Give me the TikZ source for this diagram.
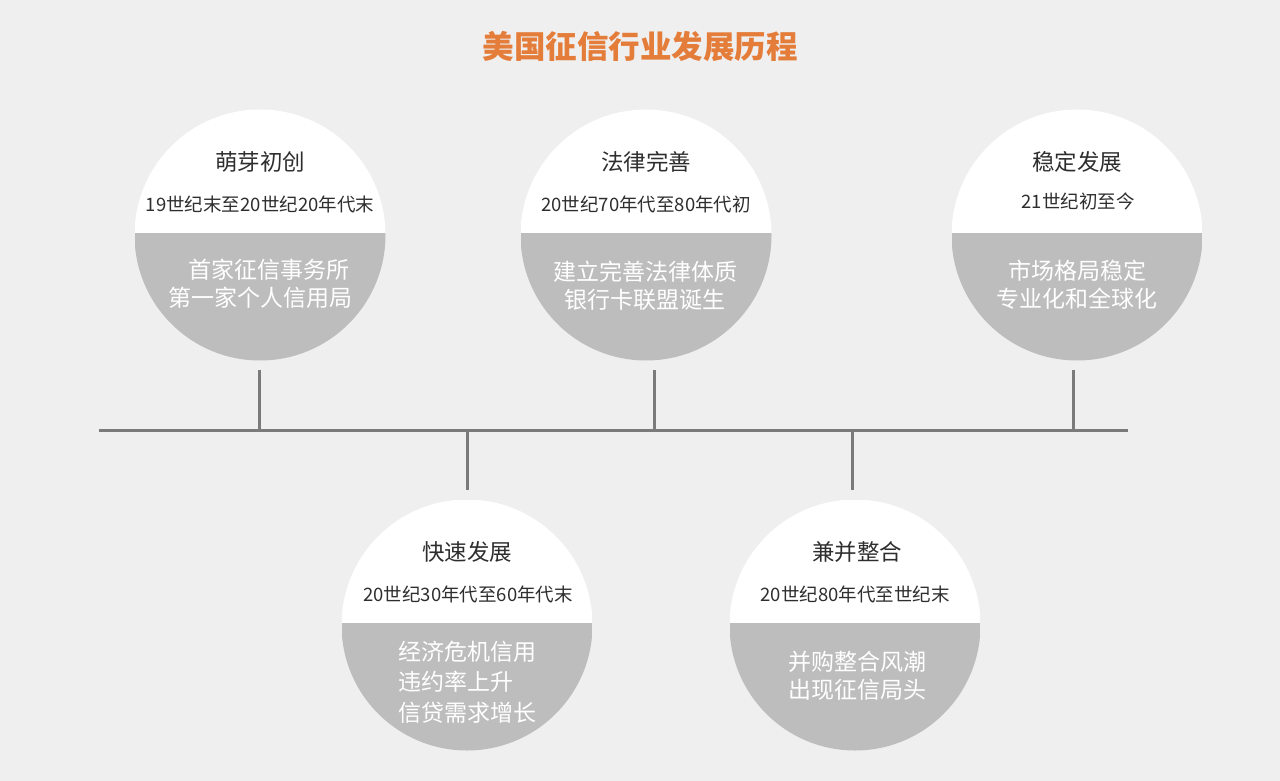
\documentclass[tikz,border=0pt]{standalone}
\usepackage{fontspec}
\setmainfont{Noto Sans CJK SC}
\definecolor{bgc}{HTML}{EFEFEF}
\definecolor{grayc}{HTML}{BDBDBD}
\definecolor{linec}{HTML}{7A7A7A}
\definecolor{orangec}{HTML}{E47D3A}
\definecolor{textc}{HTML}{2E2E2E}
\tikzset{
  stage/.style={circle, minimum size=251pt, inner sep=0pt,
    path picture={
      \fill[white] (path picture bounding box.north west) rectangle ([yshift=2pt]path picture bounding box.east);
      \fill[grayc] ([yshift=2pt]path picture bounding box.west) rectangle (path picture bounding box.south east);}},
  phase/.style={font=\fontsize{22.5}{26}\selectfont, text=textc},
  period/.style={font=\fontsize{18.5}{22}\selectfont, text=textc},
  desc/.style={font=\fontsize{23}{28}\selectfont, text=white, align=center},
  descl/.style={font=\fontsize{23}{30.5}\selectfont, text=white, align=left},
  tl/.style={draw=linec, line width=3pt},
}
\begin{document}
\begin{tikzpicture}[x=1pt,y=-1pt]
\useasboundingbox (0,0) rectangle (1280,781);
\fill[bgc] (0,0) rectangle (1280,781);

\node[font=\fontsize{31.5}{36}\selectfont\bfseries, text=orangec] (title) at (640,47) {美国征信行业发展历程};

% circles
\node[stage] (c1) at (260,235) {};
\node[stage] (c2) at (646,235) {};
\node[stage] (c3) at (1077,235) {};
\node[stage] (c4) at (467,625) {};
\node[stage] (c5) at (855,625) {};

% timeline
\coordinate (tlL) at (99,430);
\coordinate (tlR) at (1128,430);
\draw[tl] (tlL) -- (tlR);
\coordinate (s1) at (259,370);
\coordinate (s2) at (654,370);
\coordinate (s3) at (1073,370);
\coordinate (s4) at (467,490);
\coordinate (s5) at (852,490);
\foreach \s in {s1,s2,s3,s4,s5}{
  \draw[tl] (\s) -- (\s |- tlL);
}

% texts circle 1
\node[phase] (p1) at (260,162) {萌芽初创};
\node[period] (d1) at (260,204) {19世纪末至20世纪20年代末};
\node[desc] (w1) at (260,284) {\hspace*{0.8em}首家征信事务所\\第一家个人信用局};

% circle 2
\node[phase] (p2) at (646,162) {法律完善};
\node[period] (d2) at (646,204) {20世纪70年代至80年代初};
\node[desc] (w2) at (645,286) {建立完善法律体质\\银行卡联盟诞生};

% circle 3
\node[phase] (p3) at (1077,162) {稳定发展};
\node[period] (d3) at (1078,201) {21世纪初至今};
\node[desc] (w3) at (1077,285) {市场格局稳定\\专业化和全球化};

% circle 4
\node[phase] (p4) at (467,552) {快速发展};
\node[period] (d4) at (468,594) {20世纪30年代至60年代末};
\node[descl] (w4) at (467,682) {经济危机信用\\违约率上升\\信贷需求增长};

% circle 5
\node[phase] (p5) at (857,552) {兼并整合};
\node[period] (d5) at (855,594) {20世纪80年代至世纪末};
\node[desc] (w5) at (857,676) {并购整合风潮\\出现征信局头};
\end{tikzpicture}
\end{document}
